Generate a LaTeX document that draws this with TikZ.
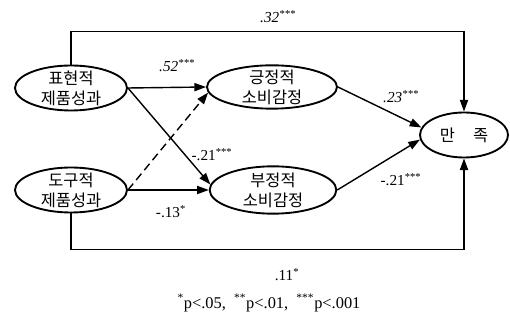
\documentclass[tikz,border=0pt]{standalone}
\usepackage{fontspec}
\setmainfont{Liberation Serif}
\newfontfamily\kr{Noto Sans CJK KR}
\usepackage{tikz}
\usetikzlibrary{arrows.meta,shapes.geometric}
\tikzset{
  varbox/.style={draw, ellipse, line width=1.6pt, inner xsep=0pt, inner ysep=-6pt,
    minimum width=3.36cm, minimum height=1.35cm, align=center,
    font=\kr\fontsize{14}{17}\selectfont},
  arrw/.style={-{Triangle[length=10pt,width=7pt]}, line width=1.2pt},
  darrw/.style={arrw, dash pattern=on 7pt off 4pt},
  coef/.style={inner sep=1pt, font=\fontsize{13}{15}\selectfont},
}
\begin{document}
\begin{tikzpicture}[x=0.03cm, y=-0.03cm]
  \useasboundingbox (0,0) rectangle (510,321);

  % Product performance
  \node[varbox] (expr) at (71,88) {표현적\\제품성과};
  \node[varbox] (instr) at (71,190) {도구적\\제품성과};

  % Consumption emotions
  \node[varbox, minimum width=3.9cm, minimum height=1.3cm] (pos) at (272,87)
    {긍정적\\소비감정};
  \node[varbox, minimum width=3.8cm, minimum height=1.42cm] (neg) at (273,190)
    {부정적\\소비감정};

  % Satisfaction
  \node[varbox, minimum width=2.64cm] (sat) at (464,135) {만\hspace{1.1em}족};

  % Arrows
  \draw[arrw] (expr.north) -- ++(0,-33) -| (sat.north);
  \draw[arrw] (instr.south) -- ++(0,36) -| (sat.south);
  \draw[arrw] (expr.east) -- (pos.west);
  \draw[arrw] (expr.east) -- (neg.175);
  \draw[darrw] (instr.east) -- (pos.185);
  \draw[arrw] (instr.east) -- (neg.west);
  \draw[arrw] (pos.east) -- (sat.170);
  \draw[arrw] (neg.east) -- (sat.186);

  % Path coefficients
  \node[coef] (c32) at (278,17) {\itshape .32\textsuperscript{***}};
  \node[coef] (c52) at (177,66) {\itshape .52\textsuperscript{***}};
  \node[coef] (c21a) at (212,155) {-.21\textsuperscript{***}};
  \node[coef] (c13) at (171,212) {-.13\textsuperscript{*}};
  \node[coef] (c23) at (401,97) {\itshape .23\textsuperscript{***}};
  \node[coef] (c21b) at (401,180) {-.21\textsuperscript{***}};
  \node[coef] (c11) at (287,275) {.11\textsuperscript{*}};

  % Significance note
  \node[coef, font=\fontsize{14}{16}\selectfont] (note) at (269,303)
    {\textsuperscript{*}p<.05,\ \ \textsuperscript{**}p<.01,\ \ \textsuperscript{***}p<.001};
\end{tikzpicture}
\end{document}
